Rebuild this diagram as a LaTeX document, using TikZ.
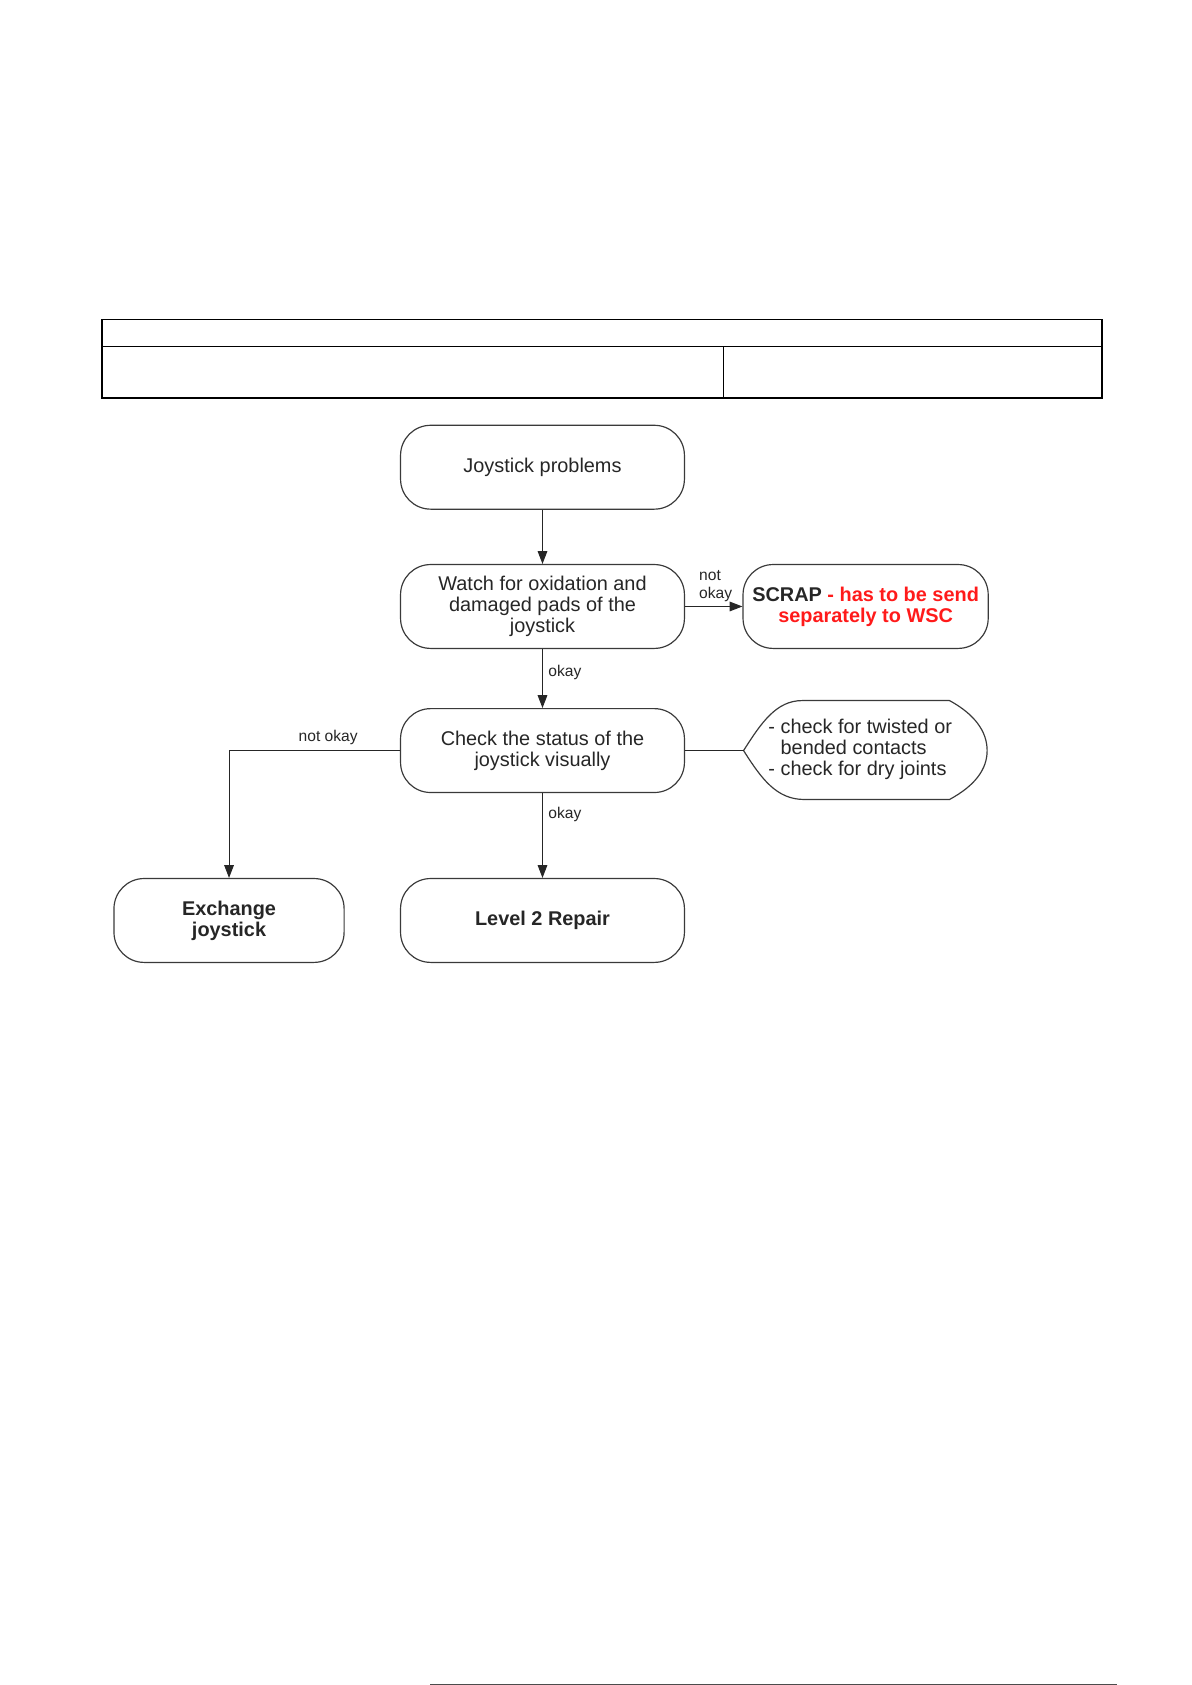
\documentclass[tikz,border=0pt]{standalone}
\usepackage{fontspec}
\setmainfont{Liberation Sans}
\usetikzlibrary{arrows.meta}
\definecolor{ink}{HTML}{262626}
\definecolor{edge}{HTML}{3A3A3A}
\definecolor{scrapred}{HTML}{FF1A1A}
\begin{document}
\begin{tikzpicture}[x=1pt,y=-1pt,
  box/.style={draw=edge, line width=1.1pt, rounded corners=28pt, minimum width=264pt,
    minimum height=78pt, align=center, inner sep=2pt,
    font=\fontsize{18.5}{19.5}\selectfont, text=ink},
  lbl/.style={font=\fontsize{14.5}{17}\selectfont, text=ink, inner sep=0pt},
  conn/.style={draw=ink, line width=1pt},
  arr/.style={conn, -{Triangle[length=12pt,width=9pt]}},
  tbl/.style={draw=black, line width=1.4pt},
]
\useasboundingbox (0,0) rectangle (1108,1567);
% header table
\draw[tbl] (95,297) rectangle (1025,370);
\draw[tbl] (95,322) -- (1025,322);
\draw[tbl] (673,322) -- (673,370);
% nodes
\node[box] (start) at (504.5,434.5) {Joystick problems};
\node[box] (watch) at (504.5,564) {Watch for oxidation and\\damaged pads of the\\joystick};
\node[box, minimum width=228pt] (scrap) at (805,564)
  {\textbf{SCRAP} \textcolor{scrapred}{\textbf{- has to be send}}\\\textcolor{scrapred}{\textbf{separately to WSC}}};
\node[box] (check) at (504.5,698) {Check the status of the\\joystick visually};
\node[box, minimum width=214pt] (exch) at (213,856) {\textbf{Exchange}\\\textbf{joystick}};
\node[box] (lvl) at (504.5,856) {\textbf{Level 2 Repair}};
% callout (display shape)
\coordinate (cpt) at (691.5,698);
\draw[draw=edge, line width=1.1pt] (cpt) .. controls (708,672) and (722,651.5) .. (746,651.5)
  -- (883,651.5) .. controls (906,664) and (918,680) .. (918,698)
  .. controls (918,716) and (906,731) .. (883,743.5)
  -- (748,743.5) .. controls (722,743.5) and (708,724) .. cycle;
\node[align=left, font=\fontsize{18.5}{19.5}\selectfont, text=ink, inner sep=0pt] (note) at (800,697)
  {- check for twisted or\\\phantom{-} bended contacts\\- check for dry joints};
% connectors
\draw[arr] (start) -- (watch);
\draw[arr] (watch) -- (scrap);
\node[lbl, align=left, anchor=south west] (nok1) at (650,560) {not\\okay};
\draw[arr] (watch) -- node[lbl, right, xshift=5pt, pos=0.4] (ok1) {okay} (check);
\draw[arr] (check.west) -| node[lbl, above, pos=0.21, yshift=5pt] (nok2) {not okay} (exch.north);
\draw[arr] (check) -- node[lbl, right, xshift=5pt, pos=0.25] (ok2) {okay} (lvl);
\draw[conn] (check.east) -- (cpt);
% faint rule at the page foot
\draw[draw=black!70, line width=0.8pt] (400,1566) -- (1039,1566);
\end{tikzpicture}
\end{document}
